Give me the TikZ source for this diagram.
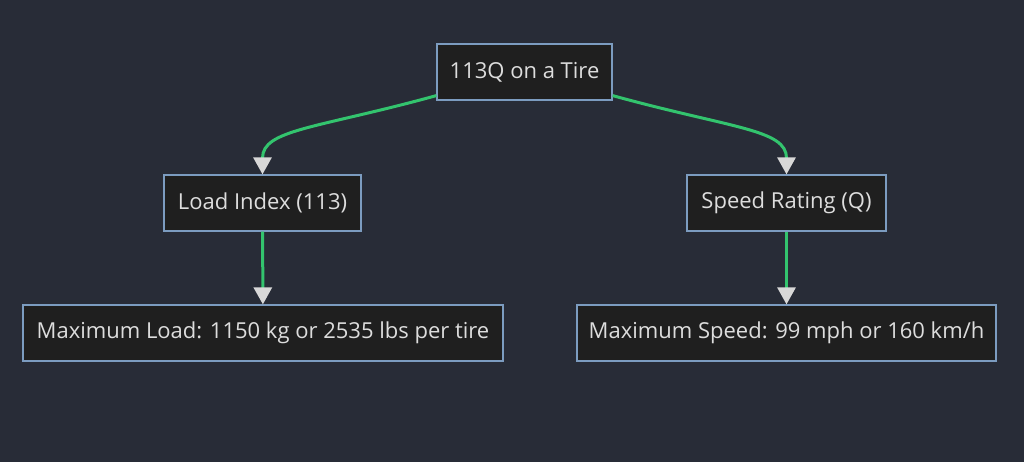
\documentclass[tikz,border=0pt]{standalone}
\usepackage{fontspec}
\setmainfont{Open Sans}
\usepackage{tikz}
\usetikzlibrary{arrows.meta}
\usetikzlibrary{positioning}
\definecolor{MyBack}{HTML}{282C37}
\definecolor{MyFill}{HTML}{1F1F1F}
\definecolor{MyLine}{HTML}{7C9CC0}
\definecolor{MyText}{HTML}{DDDDDD}
\definecolor{MyEdge}{HTML}{33C46E}
\definecolor{MyTip}{HTML}{D8D8D8}
\tikzset{
    box/.style={
      rectangle,
      fill=MyFill,
      draw=MyLine,
      line width=1.2pt,
      minimum height=56pt,
      text=MyText,
      font=\fontsize{22}{26}\selectfont,
      inner sep=0pt
    },
    link/.style={
      draw=MyEdge,
      line width=3pt,
      -{Triangle[length=17pt,width=18pt,fill=MyTip,color=MyTip]}
    },
}

\begin{document}
\begin{tikzpicture}[x=1pt,y=1pt]
    \fill[MyBack] (0,0) rectangle (1024,462);
    \useasboundingbox (0,0) rectangle (1024,462);

    \draw (524.5,390) node[box,minimum width=175pt] (Tire) {113Q on a Tire};
    \draw (262.5,259) node[box,minimum width=197pt] (Load) {Load Index (113)};
    \draw (786.5,259) node[box,minimum width=199pt] (Speed) {Speed Rating (Q)};
    \draw (263,129) node[box,minimum width=480pt] (MaxLoad) {Maximum Load: 1150 kg or 2535 lbs per tire};
    \draw (786.5,129) node[box,minimum width=419pt] (MaxSpeed) {Maximum Speed: 99 mph or 160 km/h};

    \draw[link] ([yshift=5pt]Tire.south west) .. controls +(-120,-33) and +(0,45) .. (Load.north);
    \draw[link] ([yshift=5pt]Tire.south east) .. controls +(120,-33) and +(0,45) .. (Speed.north);
    \draw[link] (Load) -- (MaxLoad);
    \draw[link] (Speed) -- (MaxSpeed);
\end{tikzpicture}
\end{document}
